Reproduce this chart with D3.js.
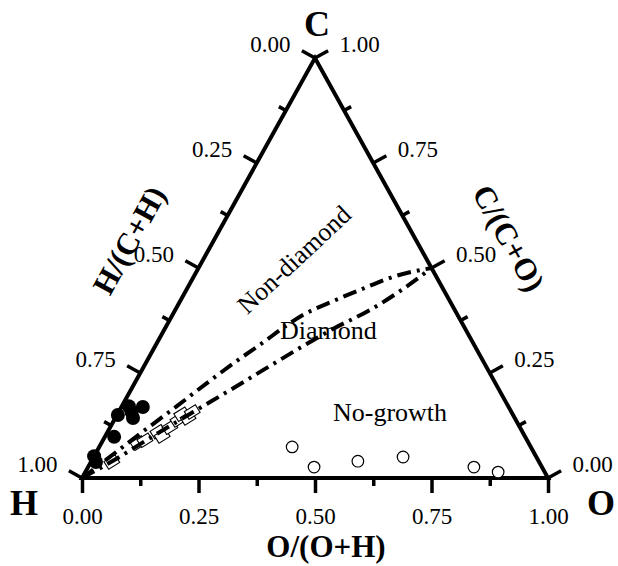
<!DOCTYPE html>
<html>
<head>
<meta charset="utf-8">
<script src="https://cdn.jsdelivr.net/npm/d3@7"></script>
<style>
  body { margin: 0; background: #fff; }
  svg { display: block; }
</style>
</head>
<body>
<div id="chart"><svg width="618" height="566"></svg></div>
<script>
// data, all as atomic fractions [C, O] (H = 1 - C - O)
const majorTicks = [0, 0.25, 0.5, 0.75, 1];
const minorTicks = [0.125, 0.375, 0.625, 0.875];
const tickLabels = ["0.00", "0.25", "0.50", "0.75", "1.00"];

const nonDiamondPts = [[0.052, 0.0], [0.038, 0.011], [0.098, 0.020], [0.150, 0.002],
  [0.171, 0.015], [0.143, 0.038], [0.169, 0.046], [0.157, 0.028]];
const diamondPts = [[0.038, 0.045], [0.083, 0.079], [0.090, 0.090], [0.110, 0.108], [0.100, 0.122],
  [0.121, 0.128], [0.138, 0.137], [0.152, 0.138], [0.143, 0.156], [0.157, 0.158]];
const noGrowthPts = [[0.074, 0.414], [0.026, 0.485], [0.040, 0.572], [0.050, 0.664],
  [0.026, 0.828], [0.014, 0.886]];

// diamond field boundaries
const upperBound = [[0, 0], [0.045, 0.031], [0.100, 0.068], [0.171, 0.118], [0.226, 0.155], [0.279, 0.193],
  [0.321, 0.226], [0.364, 0.258], [0.388, 0.280], [0.421, 0.328], [0.448, 0.373], [0.479, 0.428], [0.5, 0.5]];
const lowerBound = [[0, 0], [0.041, 0.046], [0.095, 0.098], [0.157, 0.160], [0.219, 0.223], [0.267, 0.270],
  [0.310, 0.313], [0.355, 0.361], [0.400, 0.418], [0.450, 0.464], [0.5, 0.5]];

const FONT = "'Liberation Serif', 'Times New Roman', serif";

var svg = d3.select("#chart").select("svg");

// x runs along H-O (O/(O+H)), y is carbon fraction
var x = d3.scaleLinear().domain([0, 1]).range([82, 548]);
var y = d3.scaleLinear().domain([0, 1]).range([478, 58]);
function pt(c, o) { return [x(o + c / 2), y(c)]; }

const pH = pt(0, 0), pO = pt(0, 1), pC = pt(1, 0);

function unitNormal(a, b) {
    let dx = b[0] - a[0], dy = b[1] - a[1];
    let len = Math.hypot(dx, dy);
    return [dy / len, -dx / len];
}
const nLeft = unitNormal(pH, pC);   // up-left, outward
const nRight = unitNormal(pC, pO);  // up-right, outward

// frame
svg.append("path")
    .attr("d", d3.line()([pH, pO, pC]) + "Z")
    .attr("fill", "none")
    .attr("stroke", "#000")
    .attr("stroke-width", 4)
    .attr("stroke-linejoin", "miter");

// bottom axis O/(O+H)
var gB = svg.append("g")
    .attr("transform", `translate(0,${y(0)})`)
    .attr("font-family", FONT);
gB.call(d3.axisBottom(x).tickValues(minorTicks).tickSize(8).tickFormat(""));
gB.append("g").call(d3.axisBottom(x).tickValues(majorTicks).tickSize(15).tickPadding(15)
    .tickFormat((d, i) => tickLabels[i]));
gB.selectAll(".domain").remove();
gB.selectAll(".tick line").attr("stroke-width", 3.5).attr("stroke", "#000");
gB.selectAll(".tick text").attr("font-size", 23).attr("font-family", FONT).attr("fill", "#000");

// side axes, ticks perpendicular to edges
function sideAxis(posFn, n, anchor) {
    var g = svg.append("g");
    var all = majorTicks.map(v => ({v: v, len: 15})).concat(minorTicks.map(v => ({v: v, len: 8})));
    g.selectAll("line")
        .data(all)
        .join("line")
        .attr("x1", d => posFn(d.v)[0])
        .attr("y1", d => posFn(d.v)[1])
        .attr("x2", d => posFn(d.v)[0] + n[0] * d.len)
        .attr("y2", d => posFn(d.v)[1] + n[1] * d.len)
        .attr("stroke", "#000")
        .attr("stroke-width", 3.5);
    g.selectAll("text")
        .data(majorTicks)
        .join("text")
        .attr("x", d => posFn(d)[0] + n[0] * 28)
        .attr("y", d => posFn(d)[1] + n[1] * 28)
        .attr("dy", "0.35em")
        .attr("text-anchor", anchor)
        .attr("font-family", FONT)
        .attr("font-size", 23)
        .text((d, i) => tickLabels[i]);
}
sideAxis(v => pt(1 - v, 0), nLeft, "end");     // H/(C+H)
sideAxis(v => pt(v, 1 - v), nRight, "start");  // C/(C+O)

// points
svg.append("g")
    .selectAll("rect")
    .data(diamondPts)
    .join("rect")
    .attr("x", -6.5).attr("y", -4.5)
    .attr("width", 13).attr("height", 9)
    .attr("transform", d => `translate(${pt(d[0], d[1])}) rotate(-32)`)
    .attr("fill", "#fff")
    .attr("stroke", "#000")
    .attr("stroke-width", 1.1);

svg.append("g")
    .selectAll("circle")
    .data(nonDiamondPts)
    .join("circle")
    .attr("cx", d => pt(d[0], d[1])[0])
    .attr("cy", d => pt(d[0], d[1])[1])
    .attr("r", 7)
    .attr("fill", "#000");

svg.append("g")
    .selectAll("circle")
    .data(noGrowthPts)
    .join("circle")
    .attr("cx", d => pt(d[0], d[1])[0])
    .attr("cy", d => pt(d[0], d[1])[1])
    .attr("r", 5.8)
    .attr("fill", "#fff")
    .attr("stroke", "#000")
    .attr("stroke-width", 1.2);

// boundary curves, on top of the markers
var line = d3.line()
    .x(d => pt(d[0], d[1])[0])
    .y(d => pt(d[0], d[1])[1])
    .curve(d3.curveMonotoneX);
svg.append("g")
    .selectAll("path")
    .data([upperBound, lowerBound])
    .join("path")
    .attr("d", line)
    .attr("fill", "none")
    .attr("stroke", "#000")
    .attr("stroke-width", 4)
    .attr("stroke-dasharray", "14,6,3,6");

// vertex letters
var labels = svg.append("g").attr("font-family", FONT).attr("font-weight", "bold");
labels.append("text").attr("x", 317).attr("y", 36).attr("text-anchor", "middle").attr("font-size", 36).text("C");
labels.append("text").attr("x", 24).attr("y", 515).attr("text-anchor", "middle").attr("font-size", 36).text("H");
labels.append("text").attr("x", 601).attr("y", 515).attr("text-anchor", "middle").attr("font-size", 36).text("O");

// axis titles
labels.append("text").attr("x", 326).attr("y", 557).attr("text-anchor", "middle").attr("font-size", 31).text("O/(O+H)");
labels.append("text").attr("transform", "translate(129,240) rotate(-61)")
    .attr("text-anchor", "middle").attr("dy", "0.35em").attr("font-size", 31).text("H/(C+H)");
labels.append("text").attr("transform", "translate(509,238) rotate(61)")
    .attr("text-anchor", "middle").attr("dy", "0.35em").attr("font-size", 31).text("C/(C+O)");

// region names
var regions = svg.append("g").attr("font-family", FONT).attr("font-size", 26);
regions.append("text").attr("transform", "translate(300,266) rotate(-43)").attr("text-anchor", "middle").text("Non-diamond");
regions.append("text").attr("x", 280).attr("y", 339).text("Diamond");
regions.append("text").attr("x", 333).attr("y", 421).text("No-growth");
</script>
</body>
</html>
